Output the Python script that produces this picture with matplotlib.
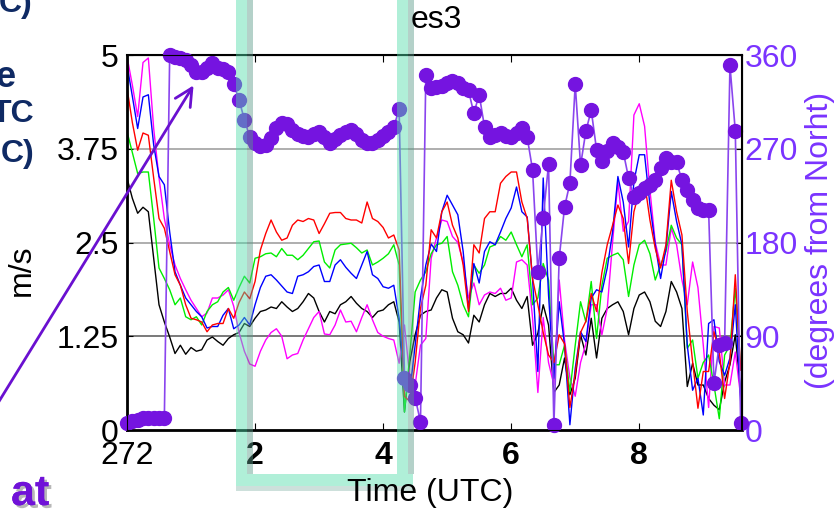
import numpy as np
import matplotlib.pyplot as plt
from matplotlib.patches import Rectangle, FancyArrowPatch
import matplotlib.patheffects as pe

plt.rcParams['font.family'] = ['Liberation Sans', 'DejaVu Sans']

# wind speed (m/s), 5-minute samples
magenta = [4.98, 4.6, 4.18, 4.9, 4.96, 4.02, 3.36, 2.82, 2.47, 2.2, 2.02, 1.87, 1.73, 1.62, 1.51, 1.56, 1.76, 1.76, 1.8, 1.87,
           1.65, 1.3, 1.05, 0.88, 0.85, 1.05, 1.2, 1.3, 1.35, 1.25, 0.95, 1.0, 1.02, 1.2, 1.35, 1.5, 1.58, 1.28, 1.27,
           1.4, 1.6, 1.44, 1.45, 1.31, 1.5, 1.67, 1.47, 1.3, 1.25, 1.22, 1.2, 0.89, 1.4, 0.7, 0.6, 1.13, 1.22, 2.29, 2.56,
           2.8, 2.78, 2.58, 2.5, 2.24, 1.76, 1.96, 1.67, 1.8, 1.84, 1.82, 1.89, 1.73, 1.76, 2.24, 2.27, 2.2, 1.5, 0.5,
           1.5, 0.9, 0.6, 2.0, 1.2, 0.7, 0.45, 0.9, 1.15, 1.67, 1.67, 1.27, 1.62, 2.5, 3.31, 2.65, 2.78, 4.2, 4.35,
           4.05, 3.2, 2.5, 2.2, 2.2, 2.69, 2.47, 2.0, 1.67, 2.24, 1.9, 1.13, 0.3, 1.38, 1.36, 0.6, 0.6, 1.04, 0.45]
red = [4.56, 4.1, 3.73, 3.96, 3.93, 3.36, 2.82, 2.69, 2.38, 2.07, 1.93, 1.67, 1.49, 1.47, 1.44, 1.31, 1.4, 1.42, 1.42, 1.62,
       1.49, 1.7, 1.84, 1.75, 1.98, 2.4, 2.62, 2.8, 2.64, 2.53, 2.56, 2.73, 2.8, 2.78, 2.82, 2.8, 2.62, 2.75, 2.89,
       2.9, 2.9, 2.82, 2.8, 2.8, 2.76, 3.04, 2.82, 2.78, 2.7, 2.56, 2.6, 2.4, 0.45, 0.38, 0.9, 1.62, 1.93, 2.67, 2.56,
       2.91, 3.04, 2.73, 2.56, 2.2, 1.58, 2.47, 2.36, 2.82, 2.91, 2.91, 3.29, 3.38, 3.44, 3.44, 3.04, 2.82, 2.02, 1.67,
       1.3, 1.0, 0.9, 1.27, 1.15, 0.3, 0.75, 1.3, 1.45, 1.82, 1.58, 2.1, 2.47, 2.73, 3.0, 2.82, 2.22, 2.91, 3.18,
       3.3, 2.8, 2.42, 2.16, 2.47, 3.33, 2.91, 2.6, 1.58, 0.91, 0.29, 0.78, 0.78, 1.31, 1.04, 0.42, 0.91, 2.07, 0.8]
green = [3.98, 3.7, 3.42, 3.44, 3.44, 2.82, 2.16, 2.02, 1.87, 1.67, 1.76, 1.51, 1.47, 1.51, 1.4, 1.58, 1.67, 1.71, 1.84, 1.9,
         1.73, 1.9, 2.05, 1.96, 2.29, 2.31, 2.35, 2.36, 2.31, 2.42, 2.33, 2.33, 2.27, 2.33, 2.42, 2.51, 2.52, 2.24, 2.16,
         2.4, 2.47, 2.48, 2.49, 2.43, 2.36, 2.4, 2.2, 2.24, 2.29, 2.35, 2.47, 2.2, 0.24, 1.0, 1.84, 2.0, 2.11, 2.35, 2.47,
         2.49, 2.58, 2.11, 1.93, 1.67, 1.51, 2.2, 2.09, 2.2, 2.44, 2.47, 2.58, 2.53, 2.64, 2.47, 2.31, 2.47, 1.67, 1.76,
         2.22, 2.0, 0.87, 0.87, 1.13, 0.51, 1.13, 1.71, 1.44, 1.98, 1.22, 1.93, 2.29, 2.33, 2.36, 2.27, 1.78, 2.2, 2.47,
         2.53, 2.35, 2.0, 2.2, 2.38, 2.73, 2.56, 2.47, 1.09, 1.2, 0.69, 0.9, 1.0, 0.6, 0.15, 1.0, 1.13, 1.89, 0.8]
blue = [4.87, 4.45, 4.02, 4.44, 4.47, 3.8, 3.38, 3.27, 2.64, 2.11, 1.93, 1.76, 1.67, 1.58, 1.51, 1.36, 1.38, 1.38, 1.53, 1.62,
        1.35, 1.4, 1.5, 1.4, 1.67, 1.9, 2.05, 2.07, 2.0, 1.92, 1.84, 1.82, 2.05, 2.07, 2.11, 2.18, 2.2, 1.98, 1.98,
        2.2, 2.27, 2.17, 2.09, 2.02, 2.2, 2.38, 2.07, 2.02, 1.91, 1.89, 1.93, 1.49, 0.69, 0.51, 1.13, 1.76, 2.2, 2.48, 2.38,
        2.91, 3.13, 3.0, 2.87, 2.38, 1.62, 2.22, 1.96, 2.38, 2.51, 2.47, 2.64, 2.82, 2.96, 3.24, 2.91, 2.84, 2.02, 0.78,
        3.36, 1.8, 0.69, 1.71, 1.13, 0.07, 0.82, 1.31, 1.18, 1.76, 1.87, 1.84, 2.16, 2.64, 3.38, 3.04, 2.44, 3.31, 3.67,
        3.67, 3.0, 2.47, 2.02, 2.42, 3.18, 2.78, 2.47, 1.13, 0.53, 0.69, 0.2, 1.42, 1.47, 0.91, 0.73, 0.96, 1.67, 0.4]
black = [3.36, 3.09, 2.89, 2.97, 2.91, 2.29, 1.67, 1.44, 1.24, 1.02, 1.13, 1.01, 1.1, 1.05, 1.07, 1.2, 1.24, 1.18, 1.13, 1.22,
         1.27, 1.3, 1.42, 1.38, 1.49, 1.58, 1.6, 1.64, 1.62, 1.71, 1.64, 1.58, 1.62, 1.71, 1.82, 1.76, 1.58, 1.44, 1.58,
         1.55, 1.67, 1.71, 1.78, 1.69, 1.62, 1.58, 1.5, 1.58, 1.6, 1.67, 1.71, 1.44, 0.24, 0.91, 1.27, 1.53, 1.58, 1.6, 1.76,
         1.87, 1.84, 1.49, 1.31, 1.27, 1.16, 1.53, 1.44, 1.67, 1.82, 1.78, 1.82, 1.82, 1.89, 1.73, 1.62, 1.78, 1.13, 1.29,
         1.67, 1.4, 0.5, 0.6, 0.96, 0.47, 0.69, 1.27, 1.0, 1.49, 0.96, 1.49, 1.62, 1.67, 1.71, 1.58, 1.27, 1.62, 1.8,
         1.84, 1.71, 1.45, 1.38, 1.58, 1.98, 1.84, 1.62, 0.58, 0.89, 0.6, 0.6, 0.42, 0.33, 0.27, 0.64, 0.87, 1.27, 0.5]

# wind direction (degrees from north)
direction = [7, 9, 10, 12, 12, 12, 12, 12, 360, 358, 357, 355, 350, 344, 344, 348, 352, 348, 347, 344,
             332, 317, 298, 281, 276, 273, 274, 280, 290, 295, 294, 288, 284, 282, 281, 284, 286, 281, 276,
             279, 283, 286, 288, 284, 278, 276, 276, 278, 282, 286, 291, 308, 50, 43, 31, 8, 341, 328, 329,
             330, 333, 335, 333, 328, 326, 304, 322, 291, 281, 283, 285, 282, 281, 285, 290, 281, 250, 152,
             204, 255, 5, 165, 214, 237, 332, 254, 287, 307, 269, 258, 268, 276, 272, 267, 242, 224, 228,
             232, 235, 240, 252, 261, 257, 257, 240, 230, 221, 213, 211, 211, 45, 82, 84, 350, 287, 7]

hours = np.arange(len(red)) / 12.0

W, H = 838, 514
fig = plt.figure(figsize=(W / 100, H / 100), dpi=100)
ax = fig.add_axes([127 / W, 1 - 430 / H, (741.7 - 127) / W, 375 / H])

for yv, c in [(1.25, '#555555'), (2.5, '#999999'), (3.75, '#999999')]:
    ax.axhline(yv, color=c, lw=1.1, zorder=1)

ax.plot(hours, black, color='black', lw=1, zorder=2)
ax.plot(hours, magenta, color='#ff00ff', lw=1, zorder=2)
ax.plot(hours, green, color='#00ee00', lw=1, zorder=2)
ax.plot(hours, blue, color='#0000ff', lw=1, zorder=2)
ax.plot(hours, red, color='#ff0000', lw=1, zorder=2)

ax.set_xlim(0, 9.6)
ax.set_ylim(0, 5)
ax.set_yticks([0, 1.25, 2.5, 3.75, 5])
ax.set_yticklabels(['0', '1.25', '2.5', '3.75', '5'], fontsize=23)
ax.set_xticks([0, 2, 4, 6, 8])
ax.set_xticklabels(['272', '2', '4', '6', '8'], fontsize=23)
for lab in ax.get_xticklabels()[1:]:
    lab.set_fontweight('bold')
ax.tick_params(axis='x', direction='in', top=True, length=5, pad=8)
ax.tick_params(axis='y', direction='in', length=4, pad=6)
for s in ['left', 'bottom']:
    ax.spines[s].set_linewidth(2)
ax.spines['top'].set_linewidth(1.5)

ax2 = ax.twinx()
ax2.plot(hours, direction, color='#8a45ee', lw=1.2, marker='o', markersize=10,
         markerfacecolor='#7514e0', markeredgecolor='#7514e0', clip_on=False)
ax2.set_ylim(0, 360)
ax2.set_yticks([0, 90, 180, 270, 360])
ax2.set_yticklabels(['0', '90', '180', '270', '360'], fontsize=23, color='#7a33ff')
ax2.tick_params(axis='y', direction='in', length=4, pad=2)
ax2.spines['right'].set_linewidth(1.5)

fig.text(436 / W, 1 - 20 / H, 'es3', ha='center', va='center', fontsize=23)
fig.text(430 / W, 1 - 493 / H, 'Time (UTC)', ha='center', va='center', fontsize=23)
fig.text(22 / W, 1 - 270 / H, 'm/s', ha='center', va='center', rotation=90, fontsize=23)
fig.text(820 / W, 1 - 240 / H, '(degrees from Norht)', ha='center', va='center',
         rotation=90, fontsize=23, color='#7a33ff')

# slide text cut off at the left edge
navy = '#0f2a64'
fig.text(33 / W, 1 - 12 / H, 'C)', ha='right', va='baseline', fontsize=23, fontweight='bold', color=navy)
fig.text(16 / W, 1 - 87 / H, 'e', ha='right', va='baseline', fontsize=26, fontweight='bold', color=navy)
fig.text(34 / W, 1 - 122 / H, 'TC', ha='right', va='baseline', fontsize=23, fontweight='bold', color=navy)
fig.text(34 / W, 1 - 162 / H, 'C)', ha='right', va='baseline', fontsize=23, fontweight='bold', color=navy)
fig.text(11 / W, 1 - 505 / H, 'at', ha='left', va='baseline', fontsize=31, fontweight='bold', color='#7012d8',
         path_effects=[pe.withSimplePatchShadow(offset=(2, -2), shadow_rgbFace='#888888', alpha=0.6), pe.Normal()])

# arrow pointing at the direction trace
arr = FancyArrowPatch((-10 / W, 1 - 416 / H), (195 / W, 1 - 83 / H), transform=fig.transFigure,
                      arrowstyle='->,head_length=0.9,head_width=0.45', mutation_scale=14,
                      color='#6a10d0', lw=2)
fig.add_artist(arr)

# teal highlight frame
light, dark = '#50dcaa', '#2f7060'
for x0 in [236, 397]:
    fig.add_artist(Rectangle((x0 / W, 1 - 474 / H), 11 / W, 474 / H, transform=fig.transFigure,
                             facecolor=light, alpha=0.45, edgecolor='none'))
    fig.add_artist(Rectangle(((x0 + 11) / W, 1 - 474 / H), 6 / W, 474 / H, transform=fig.transFigure,
                             facecolor='#5a9a88', alpha=0.45, edgecolor='none'))
fig.add_artist(Rectangle((236 / W, 1 - 486 / H), 177 / W, 12 / H, transform=fig.transFigure,
                         facecolor=light, alpha=0.45, edgecolor='none'))
fig.add_artist(Rectangle((236 / W, 1 - 491 / H), 177 / W, 5 / H, transform=fig.transFigure,
                         facecolor='#5a9a88', alpha=0.3, edgecolor='none'))

fig.savefig('out.png', dpi=100)
